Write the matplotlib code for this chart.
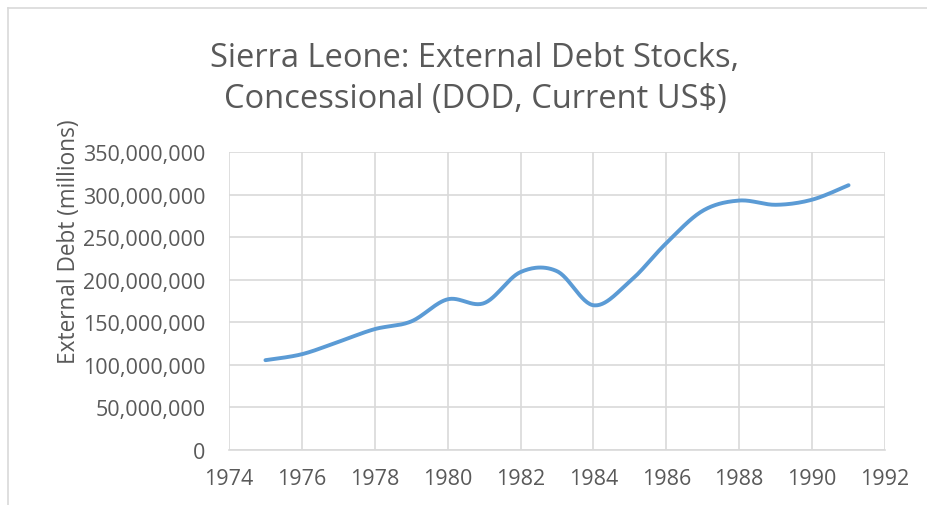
import numpy as np
import matplotlib
matplotlib.use("Agg")
import matplotlib.pyplot as plt
from matplotlib.ticker import FuncFormatter
from matplotlib.lines import Line2D

years = [1975, 1976, 1977, 1978, 1979, 1980, 1981, 1982, 1983,
         1984, 1985, 1986, 1987, 1988, 1989, 1990, 1991]
debt = [105.5e6, 112.5e6, 127e6, 142e6, 151e6, 177e6, 172.5e6, 209e6, 210e6,
        170e6, 198e6, 243e6, 281e6, 293e6, 288e6, 294e6, 311e6]
title = "Sierra Leone: External Debt Stocks,\nConcessional (DOD, Current US$)"
ylabel = "External Debt (millions)"
xticks = [1974, 1976, 1978, 1980, 1982, 1984, 1986, 1988, 1990, 1992]
yticks = [0, 50e6, 100e6, 150e6, 200e6, 250e6, 300e6, 350e6]


def smooth(xs, ys, n=30):
    xs = np.asarray(xs, float)
    ys = np.asarray(ys, float)
    px = np.concatenate([[xs[0]], xs, [xs[-1]]])
    py = np.concatenate([[ys[0]], ys, [ys[-1]]])
    ox, oy = [], []
    t = np.linspace(0, 1, n)
    for i in range(1, len(px) - 2):
        p0 = np.array([px[i], py[i]])
        p3 = np.array([px[i + 1], py[i + 1]])
        c1 = p0 + (np.array([px[i + 1], py[i + 1]]) - np.array([px[i - 1], py[i - 1]])) / 6
        c2 = p3 - (np.array([px[i + 2], py[i + 2]]) - np.array([px[i], py[i]])) / 6
        b = ((1 - t) ** 3)[:, None] * p0 + (3 * (1 - t) ** 2 * t)[:, None] * c1 \
            + (3 * (1 - t) * t ** 2)[:, None] * c2 + (t ** 3)[:, None] * p3
        ox.extend(b[:, 0])
        oy.extend(b[:, 1])
    return ox, oy


plt.rcParams['font.family'] = ['Open Sans', 'DejaVu Sans']
txt = '#595959'
grid = '#D9D9D9'

fig = plt.figure(figsize=(9.28, 5.06), dpi=100)
ax = fig.add_axes([229 / 928, 1 - 451 / 506, (885 - 229) / 928, (451 - 153) / 506])

sx, sy = smooth(years, debt)
ax.plot(sx, sy, color='#5B9BD5', lw=2.8, solid_capstyle='round', zorder=3)

ax.set_xlim(1974, 1992)
ax.set_ylim(0, 350e6)
ax.set_xticks(xticks)
ax.set_yticks(yticks)
ax.yaxis.set_major_formatter(FuncFormatter(lambda v, p: f"{int(v):,}"))
ax.grid(True, color=grid, lw=1.2)
ax.set_axisbelow(True)
for s in ['top', 'right', 'left']:
    ax.spines[s].set_visible(False)
ax.spines['bottom'].set_color(grid)
ax.spines['bottom'].set_linewidth(1.2)
ax.tick_params(axis='both', length=0, labelsize=15.5, colors=txt)
ax.tick_params(axis='y', pad=17)
ax.tick_params(axis='x', pad=13)

fig.text(69 / 928, 1 - 242 / 506, ylabel, rotation=90, ha='center', va='center',
         fontsize=16.3, color=txt)

fig.text(475 / 928, 1 - 79 / 506, title, ha='center', va='center', fontsize=23.5,
         color=txt, linespacing=1.3)

fig.add_artist(Line2D([8 / 928, 1], [1 - 8.5 / 506, 1 - 8.5 / 506], color=grid, lw=1.2,
                      transform=fig.transFigure))
fig.add_artist(Line2D([8.5 / 928, 8.5 / 928], [0, 1 - 8.5 / 506], color=grid, lw=1.2,
                      transform=fig.transFigure))

fig.savefig('out.png', dpi=100, facecolor='white')
